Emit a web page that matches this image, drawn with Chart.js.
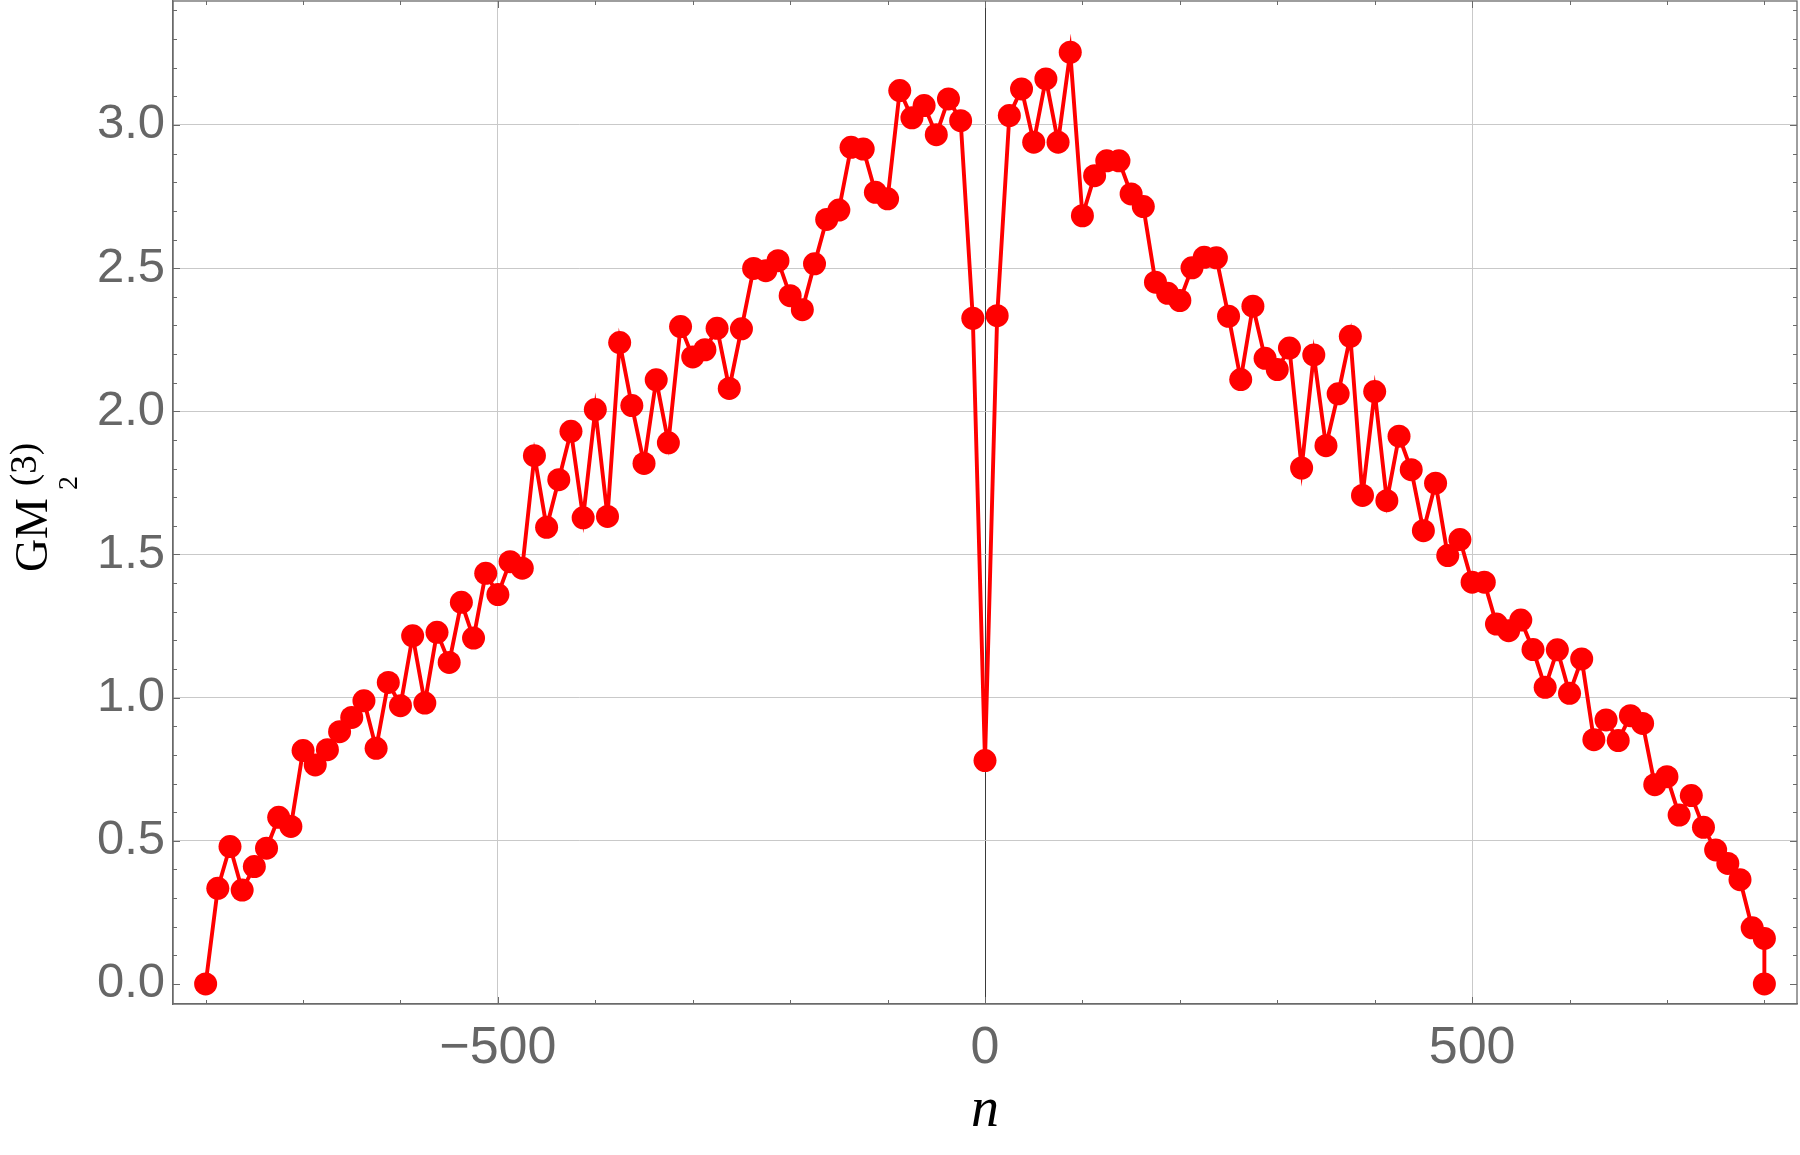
<!DOCTYPE html>
<html>
<head>
<meta charset="utf-8">
<title>GM2(3) vs n</title>
<script src="https://cdn.jsdelivr.net/npm/chart.js@4.4.1/dist/chart.umd.min.js"></script>
<style>
  html, body { margin: 0; padding: 0; background: #fff; }
  #wrap { width: 1800px; height: 1155px; }
</style>
</head>
<body>
<div id="wrap"><canvas id="chart" width="1800" height="1155"></canvas></div>
<script>
/* ---------------------------------------------------------------- *
 * Data
 * ---------------------------------------------------------------- */
const nValues = [
  -800, -787.5, -775, -762.5, -750, -737.5, -725, -712.5,
  -700, -687.5, -675, -662.5, -650, -637.5, -625, -612.5,
  -600, -587.5, -575, -562.5, -550, -537.5, -525, -512.5,
  -500, -487.5, -475, -462.5, -450, -437.5, -425, -412.5,
  -400, -387.5, -375, -362.5, -350, -337.5, -325, -312.5,
  -300, -287.5, -275, -262.5, -250, -237.5, -225, -212.5,
  -200, -187.5, -175, -162.5, -150, -137.5, -125, -112.5,
  -100, -87.5, -75, -62.5, -50, -37.5, -25, -12.5,
  0,
  12.5, 25, 37.5, 50, 62.5, 75, 87.5, 100,
  112.5, 125, 137.5, 150, 162.5, 175, 187.5, 200,
  212.5, 225, 237.5, 250, 262.5, 275, 287.5, 300,
  312.5, 325, 337.5, 350, 362.5, 375, 387.5, 400,
  412.5, 425, 437.5, 450, 462.5, 475, 487.5, 500,
  512.5, 525, 537.5, 550, 562.5, 575, 587.5, 600,
  612.5, 625, 637.5, 650, 662.5, 675, 687.5, 700,
  712.5, 725, 737.5, 750, 762.5, 775, 787.5, 800, 800,
];

const gmValues = [
  0.0, 0.334, 0.48, 0.328, 0.41, 0.474, 0.582, 0.55,
  0.815, 0.765, 0.818, 0.881, 0.931, 0.989, 0.823, 1.053,
  0.972, 1.216, 0.981, 1.228, 1.123, 1.333, 1.208, 1.434,
  1.36, 1.475, 1.452, 1.845, 1.595, 1.761, 1.93, 1.628,
  2.006, 1.633, 2.24, 2.02, 1.818, 2.11, 1.89, 2.296,
  2.19, 2.215, 2.29, 2.08, 2.288, 2.499, 2.491, 2.526,
  2.404, 2.355, 2.515, 2.67, 2.703, 2.922, 2.916, 2.765,
  2.742, 3.12, 3.025, 3.068, 2.966, 3.091, 3.015, 2.325,
  0.78,
  2.334, 3.033, 3.126, 2.94, 3.161, 2.94, 3.254, 2.683,
  2.823, 2.875, 2.875, 2.759, 2.715, 2.451, 2.412, 2.387,
  2.501, 2.538, 2.536, 2.332, 2.111, 2.367, 2.185, 2.146,
  2.221, 1.802, 2.197, 1.88, 2.061, 2.262, 1.706, 2.069,
  1.688, 1.913, 1.796, 1.583, 1.749, 1.496, 1.552, 1.403,
  1.403, 1.257, 1.234, 1.271, 1.168, 1.036, 1.167, 1.015,
  1.135, 0.853, 0.922, 0.85, 0.937, 0.91, 0.696, 0.724,
  0.59, 0.658, 0.547, 0.468, 0.421, 0.364, 0.196, 0.159, 0.0,
];

// major ticks (labelled) and the unlabelled minor frame ticks
const xTickValues = [-500, 0, 500];
const xTickLabels = ["\u2212500", "0", "500"];
const xMinorTicks = [-800, -700, -600, -500, -400, -300, -200, -100, 0,
                     100, 200, 300, 400, 500, 600, 700, 800];
const yTickValues = [0, 0.5, 1.0, 1.5, 2.0, 2.5, 3.0];
const yTickLabels = ["0.0", "0.5", "1.0", "1.5", "2.0", "2.5", "3.0"];

/* ---------------------------------------------------------------- *
 * Styling
 * ---------------------------------------------------------------- */
const RED = "#ff0000";
const FRAME = "#6a6a6a";
const GRID = "#c9c9c9";
const SANS = '"Liberation Sans", Arial, sans-serif';
const SERIF = '"Liberation Serif", "Times New Roman", serif';

// frame box, inward ticks and the two axis titles
const framePlugin = {
  id: "frame",
  afterDraw(chart) {
    const { ctx, chartArea: a, scales: { x, y } } = chart;
    ctx.save();
    ctx.strokeStyle = FRAME;
    ctx.lineWidth = 1.3;
    ctx.strokeRect(a.left, a.top, a.right - a.left, a.bottom - a.top);

    ctx.lineWidth = 1;
    ctx.beginPath();
    for (const v of xMinorTicks) {
      const px = Math.round(x.getPixelForValue(v)) + 0.5;
      const len = xTickValues.includes(v) ? 7 : 4;
      ctx.moveTo(px, a.bottom); ctx.lineTo(px, a.bottom - len);
      ctx.moveTo(px, a.top); ctx.lineTo(px, a.top + len);
    }
    for (let i = 0; i <= 34; i++) {
      const py = Math.round(y.getPixelForValue(i / 10)) + 0.5;
      const len = i % 5 === 0 ? 7 : 4;
      ctx.moveTo(a.left, py); ctx.lineTo(a.left + len, py);
      ctx.moveTo(a.right, py); ctx.lineTo(a.right - len, py);
    }
    ctx.stroke();

    // x title: italic n
    ctx.fillStyle = "#000";
    ctx.font = "italic 56px " + SERIF;
    ctx.textAlign = "center";
    ctx.textBaseline = "alphabetic";
    ctx.fillText("n", (a.left + a.right) / 2, 1126);

    // y title: GM with stacked subscript 2 / superscript (3), rotated
    ctx.translate(47, 572);
    ctx.rotate(-Math.PI / 2);
    ctx.textAlign = "left";
    ctx.font = "46px " + SERIF;
    ctx.fillText("G", 0, 0);
    ctx.fillText("M", 33, 0);
    ctx.font = "28px " + SERIF;
    ctx.fillText("2", 82, 30);
    ctx.font = "37px " + SERIF;
    ctx.fillText("(3)", 86, -11);
    ctx.restore();
  },
};

/* ---------------------------------------------------------------- *
 * Chart
 * ---------------------------------------------------------------- */
const points = nValues.map((n, i) => ({ x: n, y: gmValues[i] }));

new Chart(document.getElementById("chart"), {
  type: "scatter",
  data: {
    datasets: [{
      data: points,
      showLine: true,
      borderColor: RED,
      borderWidth: 3.9,
      tension: 0,
      pointRadius: 11.5,
      pointHoverRadius: 11.5,
      pointBackgroundColor: RED,
      pointBorderWidth: 0,
    }],
  },
  options: {
    responsive: false,
    animation: false,
    events: [],
    // point radius must not shrink the plot box
    layout: { autoPadding: false, padding: { left: 0, right: 3, top: 1, bottom: 0 } },
    plugins: { legend: { display: false }, tooltip: { enabled: false } },
    scales: {
      x: {
        type: "linear",
        min: -833.5,
        max: 833.5,
        afterBuildTicks(scale) { scale.ticks = xTickValues.map(v => ({ value: v })); },
        afterFit(scale) {
          scale.height = 151;
          scale.paddingLeft = 0;
          scale.paddingRight = 0;
        },
        ticks: {
          autoSkip: false, maxRotation: 0, padding: 13,
          color: "#666", font: { family: SANS, size: 52 },
          callback: (v, i) => xTickLabels[i],
        },
        grid: {
          drawTicks: false,
          lineWidth: 1,
          color: ctx => (ctx.tick && ctx.tick.value === 0 ? "#3a3a3a" : GRID),
        },
        border: { display: true, color: FRAME, width: 1.3 },
      },
      y: {
        type: "linear",
        min: -0.07,
        max: 3.433,
        afterBuildTicks(scale) { scale.ticks = yTickValues.map(v => ({ value: v })); },
        afterFit(scale) {
          scale.width = 173;
          scale.paddingTop = 0;
          scale.paddingBottom = 0;
        },
        ticks: {
          autoSkip: false, padding: 8,
          color: "#666", font: { family: SANS, size: 49 },
          callback: (v, i) => yTickLabels[i],
        },
        grid: {
          drawTicks: false,
          lineWidth: 1,
          color: ctx => (ctx.tick && ctx.tick.value === 0 ? "rgba(0,0,0,0)" : GRID),
        },
        border: { display: true, color: FRAME, width: 1.3 },
      },
    },
  },
  plugins: [framePlugin],
});
</script>
</body>
</html>
